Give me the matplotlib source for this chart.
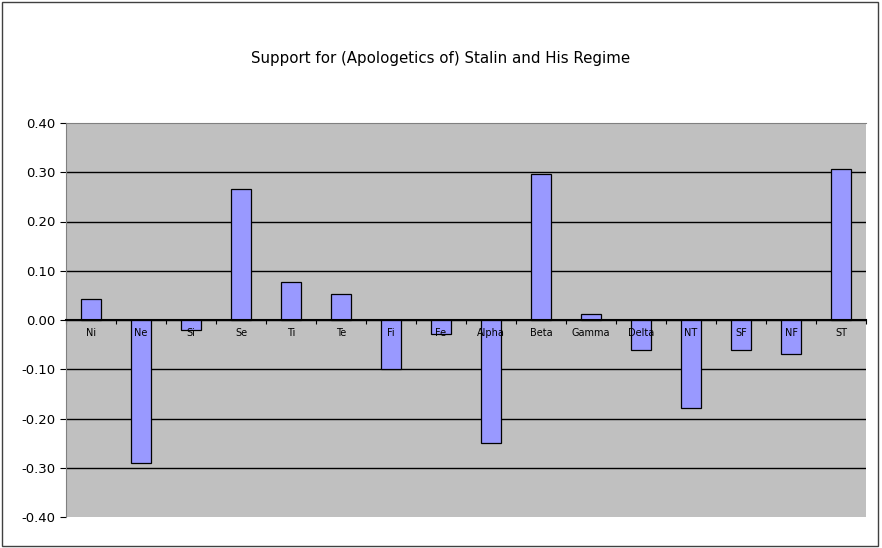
import matplotlib.pyplot as plt
from matplotlib.patches import Rectangle
import numpy as np

# Categorias e valores
categorias = ["Ni", "Ne", "Si", "Se", "Ti", "Te", "Fi", "Fe",
              "Alpha", "Beta", "Gamma", "Delta", "NT", "SF", "NF", "ST"]
valores = [0.042, -0.290, -0.021, 0.265, 0.077, 0.053, -0.100, -0.029,
           -0.250, 0.296, 0.012, -0.061, -0.179, -0.061, -0.070, 0.306]
yticks = [-0.40, -0.30, -0.20, -0.10, 0.00, 0.10, 0.20, 0.30, 0.40]

fig = plt.figure(figsize=(8.82, 5.48), dpi=100)
fig.patches.append(Rectangle((0.002, 0.004), 0.994, 0.992, transform=fig.transFigure,
                             fill=False, edgecolor="#404040", linewidth=1))

ax = fig.add_axes([66 / 882, 31 / 548, 800 / 882, 394 / 548])
ax.set_facecolor("#C0C0C0")

x = np.arange(len(categorias))
ax.bar(x, valores, width=0.4, color="#9999FF", edgecolor="black", linewidth=0.9, zorder=3)

ax.set_xlim(-0.5, len(categorias) - 0.5)
ax.set_ylim(-0.40, 0.40)
ax.set_yticks(yticks)
ax.set_yticklabels([f"{v:.2f}" for v in yticks], fontsize=9.5)

# linhas de grade só no interior
for v in yticks[1:-1]:
    ax.axhline(v, color="black", linewidth=1, zorder=1)

# eixo x na linha do zero
ax.spines["bottom"].set_position(("data", 0))
ax.spines["bottom"].set_linewidth(1.5)
ax.spines["bottom"].set_zorder(4)
ax.spines["top"].set_color("#808080")
ax.spines["right"].set_visible(False)
ax.spines["left"].set_color("#808080")

ax.set_xticks(np.arange(len(categorias) + 1) - 0.5)
ax.set_xticklabels([])
ax.tick_params(axis="x", length=3, direction="out")
ax.tick_params(axis="y", length=4, direction="out")

# rótulos das categorias por cima das barras
for xi, nome in zip(x, categorias):
    ax.text(xi, -0.026, nome, ha="center", va="center", fontsize=7, zorder=5)

fig.text(0.5, 1 - 58 / 548, "Support for (Apologetics of) Stalin and His Regime",
         ha="center", va="center", fontsize=10.8)

plt.savefig("out.png", dpi=100)
